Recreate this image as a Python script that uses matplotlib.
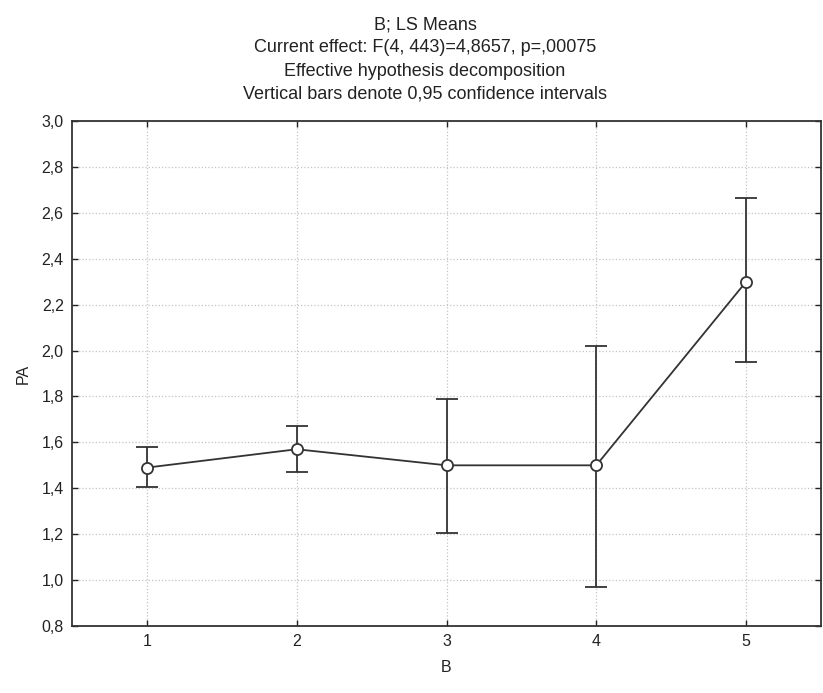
import matplotlib
matplotlib.use('Agg')
import matplotlib.pyplot as plt
import numpy as np

plt.rcParams['font.family'] = ['Liberation Sans', 'DejaVu Sans']

# LS means of PA by level of B, with 0,95 confidence limits
levels = [1, 2, 3, 4, 5]
means = [1.49, 1.57, 1.50, 1.50, 2.30]
ci_low = [1.405, 1.47, 1.205, 0.97, 1.95]
ci_high = [1.58, 1.67, 1.79, 2.02, 2.665]

y_ticks = [0.8, 1.0, 1.2, 1.4, 1.6, 1.8, 2.0, 2.2, 2.4, 2.6, 2.8, 3.0]

title_lines = [
    'B; LS Means',
    'Current effect: F(4, 443)=4,8657, p=,00075',
    'Effective hypothesis decomposition',
    'Vertical bars denote 0,95 confidence intervals',
]

W, H = 823, 693
fig = plt.figure(figsize=(W / 100, H / 100), dpi=100)
ax = fig.add_axes([72 / W, 1 - 626 / H, 749 / W, 505 / H])

means = np.array(means)
yerr = [means - np.array(ci_low), np.array(ci_high) - means]

ax.errorbar(levels, means, yerr=yerr, color='#333333', lw=1.3,
            elinewidth=1.3, capsize=8, capthick=1.3,
            marker='o', markersize=8, markerfacecolor='white',
            markeredgecolor='#333333', markeredgewidth=1.3, zorder=3)

ax.set_xlim(0.5, 5.5)
ax.set_ylim(0.8, 3.0)
ax.set_xticks(levels)
ax.set_yticks(y_ticks)
ax.set_yticklabels([f'{v:.1f}'.replace('.', ',') for v in y_ticks])

ax.grid(True, linestyle=':', color='#c4c4c4', linewidth=0.9)
ax.tick_params(direction='in', length=4, width=1, top=True, right=True,
               labelsize=11.5, colors='#222222', pad=6)
for sp in ax.spines.values():
    sp.set_linewidth(1.3)
    sp.set_color('#333333')

ax.set_xlabel('B', fontsize=11.5, color='#222222', labelpad=8)
ax.set_ylabel('PA', fontsize=11.5, color='#222222', labelpad=8)

# four centred title lines above the plot
for i, line in enumerate(title_lines):
    fig.text(425 / W, 1 - (25 + 23 * i) / H, line, ha='center', va='center',
             fontsize=13, color='#222222')

fig.savefig('out.png', dpi=100)
